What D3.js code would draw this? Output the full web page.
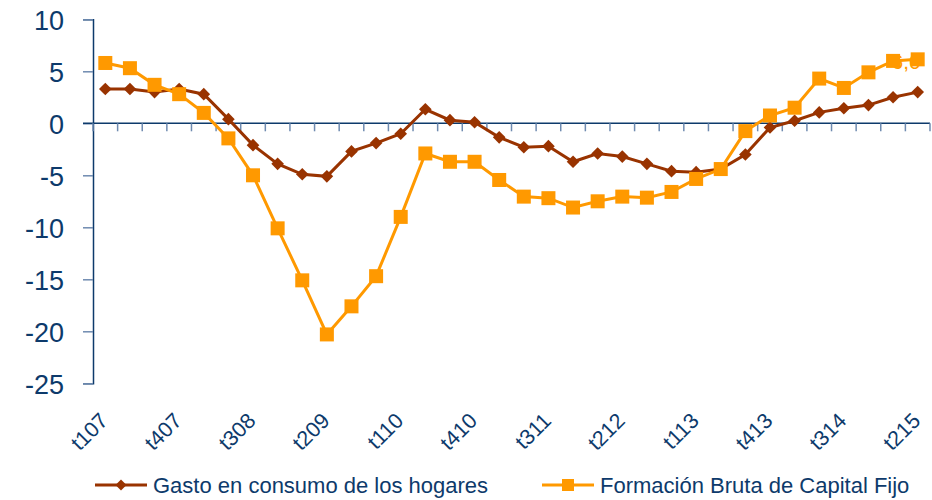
<!DOCTYPE html>
<html>
<head>
<meta charset="utf-8">
<script src="https://cdn.jsdelivr.net/npm/d3@7"></script>
<style>
  body { margin: 0; background: #fff; }
  svg { display: block; font-family: "Liberation Sans", Arial, sans-serif; }
</style>
</head>
<body>
<div id="chart"></div>
<script>
// quarters t107 .. t215
const categories = [
  "t107","t207","t307","t407","t108","t208","t308","t408",
  "t109","t209","t309","t409","t110","t210","t310","t410",
  "t111","t211","t311","t411","t112","t212","t312","t412",
  "t113","t213","t313","t413","t114","t214","t314","t414",
  "t115","t215"
];
const tickLabels = ["t107","t407","t308","t209","t110","t410","t311","t212","t113","t413","t314","t215"];
const yTicks = [10, 5, 0, -5, -10, -15, -20, -25];

const gasto = [
  3.3, 3.3, 3.0, 3.3, 2.8, 0.4, -2.1, -3.9, -4.9, -5.1,
  -2.7, -1.9, -1.0, 1.35, 0.3, 0.1, -1.35, -2.3, -2.2, -3.7,
  -2.9, -3.2, -3.9, -4.6, -4.7, -4.4, -3.0, -0.4, 0.25, 1.05,
  1.45, 1.75, 2.5, 3.0
];
const fbcf = [
  5.8, 5.3, 3.7, 2.8, 1.0, -1.45, -5.0, -10.1, -15.1, -20.3,
  -17.6, -14.7, -9.0, -2.9, -3.7, -3.7, -5.45, -7.05, -7.2, -8.1,
  -7.5, -7.05, -7.15, -6.6, -5.35, -4.4, -0.75, 0.75, 1.5, 4.3,
  3.4, 4.9, 6.0, 6.15
];
const seriesNames = ["Gasto en consumo de los hogares", "Formación Bruta de Capital Fijo"];

const w = 932, h = 500;
const plotLeft = 93, plotRight = 930, plotTop = 19.3, plotBottom = 383.3;
const navy = "#0d3a6b";
const tickColor = "#6f8bb0";
const red = "#993300";
const orange = "#ff9900";

const svg = d3.select("#chart").append("svg").attr("width", w).attr("height", h);

const x = d3.scaleBand().domain(categories).range([plotLeft, plotRight]).padding(0);
const y = d3.scaleLinear().domain([-25, 10]).range([plotBottom, plotTop]);
const cx = (c) => x(c) + x.bandwidth() / 2;

// y axis
const yAxis = d3.axisLeft(y).tickValues(yTicks).tickSize(10).tickPadding(19).tickFormat(d3.format("d"));
const gy = svg.append("g").attr("transform", "translate(" + plotLeft + ",0)").call(yAxis);
gy.select(".domain").attr("stroke", navy).attr("stroke-width", 1.5);
gy.selectAll(".tick line").attr("stroke", tickColor).attr("stroke-width", 1.5);
gy.selectAll(".tick text").attr("fill", navy).style("font-size", "27px")
  .attr("dy", "0.36em").text((d) => d < 0 ? "-" + Math.abs(d) : d);

// x axis at zero
svg.append("line")
  .attr("x1", plotLeft - 10).attr("x2", plotRight)
  .attr("y1", y(0)).attr("y2", y(0))
  .attr("stroke", navy).attr("stroke-width", 1.5);
svg.append("g").selectAll("line")
  .data(categories.concat(["end"]))
  .enter().append("line")
  .attr("x1", (d) => d === "end" ? plotRight : x(d))
  .attr("x2", (d) => d === "end" ? plotRight : x(d))
  .attr("y1", y(0)).attr("y2", y(0) + 8)
  .attr("stroke", tickColor).attr("stroke-width", 1.5);

svg.append("g").selectAll("text")
  .data(tickLabels)
  .enter().append("text")
  .attr("transform", (d) => "translate(" + (cx(d) + 4) + ",422) rotate(-45)")
  .attr("text-anchor", "end")
  .attr("fill", navy)
  .style("font-size", "21.5px")
  .text((d) => d);

// partly hidden data label
svg.append("text")
  .attr("x", cx("t215") + 3).attr("y", 69)
  .attr("text-anchor", "end")
  .attr("fill", orange).style("font-size", "21px")
  .text("6,0");

// lines
const line = (vals) => d3.line().x((d, i) => cx(categories[i])).y((d) => y(d))(vals);

svg.append("path").attr("d", line(gasto))
  .attr("fill", "none").attr("stroke", red).attr("stroke-width", 3);
svg.append("path").attr("d", line(fbcf))
  .attr("fill", "none").attr("stroke", orange).attr("stroke-width", 3);

const diamond = d3.symbol().type(d3.symbolSquare).size(80);
svg.append("g").selectAll("path")
  .data(gasto).enter().append("path")
  .attr("d", diamond)
  .attr("transform", (d, i) => "translate(" + cx(categories[i]) + "," + y(d) + ") rotate(45)")
  .attr("fill", red);

const sq = 14;
svg.append("g").selectAll("rect")
  .data(fbcf).enter().append("rect")
  .attr("x", (d, i) => cx(categories[i]) - sq / 2)
  .attr("y", (d) => y(d) - sq / 2)
  .attr("width", sq).attr("height", sq)
  .attr("fill", orange);

// legend
const legend = svg.append("g");
legend.append("line").attr("x1", 95).attr("x2", 147).attr("y1", 485).attr("y2", 485)
  .attr("stroke", red).attr("stroke-width", 3);
legend.append("path").attr("d", d3.symbol().type(d3.symbolSquare).size(60))
  .attr("transform", "translate(121,485) rotate(45)").attr("fill", red);
legend.append("text").attr("x", 153).attr("y", 492.5).attr("fill", navy)
  .style("font-size", "22px").text(seriesNames[0]);

legend.append("line").attr("x1", 542).attr("x2", 594).attr("y1", 485).attr("y2", 485)
  .attr("stroke", orange).attr("stroke-width", 3);
legend.append("rect").attr("x", 562).attr("y", 479).attr("width", 12).attr("height", 12)
  .attr("fill", orange);
legend.append("text").attr("x", 600).attr("y", 492.5).attr("fill", navy)
  .style("font-size", "22px").text(seriesNames[1]);
</script>
</body>
</html>
